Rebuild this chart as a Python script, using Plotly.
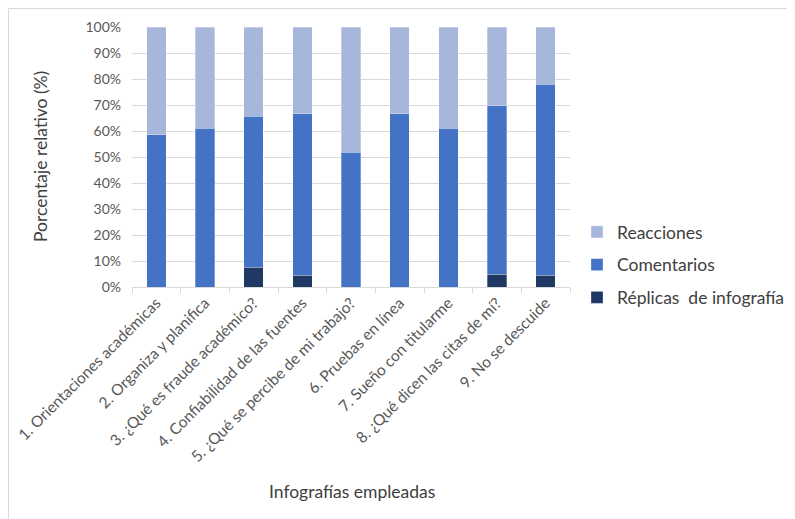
import plotly.graph_objects as go

categorias = [
    "1. Orientaciones académicas",
    "2. Organiza y planifica",
    "3. ¿Qué es fraude académico?",
    "4. Confiabilidad de las fuentes",
    "5. ¿Qué se percibe de mi trabajo?",
    "6. Pruebas en línea",
    "7. Sueño con titularme",
    "8. ¿Qué dicen las citas de mí?",
    "9. No se descuide",
]
replicas = [0.0, 0.0, 7.6, 4.5, 0.0, 0.0, 0.0, 5.0, 4.5]
comentarios = [58.5, 61.1, 58.0, 62.1, 51.8, 66.6, 61.1, 64.7, 73.5]
reacciones = [41.5, 38.9, 34.4, 33.4, 48.2, 33.4, 38.9, 30.3, 22.0]
y_ticks = [0, 10, 20, 30, 40, 50, 60, 70, 80, 90, 100]
y_ticklabels = [f"{v}%" for v in y_ticks]

FONT = "Lato"
fig = go.Figure()
series = [
    ("Réplicas  de infografía", replicas, "#1F3864", 3),
    ("Comentarios", comentarios, "#4472C4", 2),
    ("Reacciones", reacciones, "#A7B7DC", 1),
]
for name, vals, col, rank in series:
    fig.add_trace(go.Bar(
        x=categorias, y=vals, name=name, legendgroup=name, legendrank=rank,
        marker=dict(color=col, line=dict(color="rgba(255,255,255,0.6)", width=0.5)),
    ))

W, H = 795, 519
OFF = 8  # page body margin
# plot area in page coordinates of the reference
PX0, PX1, PY0, PY1 = 132, 570, 27, 287
L = PX0 - OFF
T = PY0 - OFF
R = W - (PX1 - OFF)
B = H - (PY1 - OFF)
pw, ph = W - L - R, H - T - B

def px(x):
    return (x - OFF - L) / pw

def py(y):
    return (H - B - (y - OFF)) / ph

fig.update_layout(
    width=W, height=H, barmode="stack", bargap=0.6,
    margin=dict(l=L, r=R, t=T, b=B, autoexpand=False),
    paper_bgcolor="white", plot_bgcolor="white",
    font=dict(family=FONT, color="#595959", size=13),
    legend=dict(
        x=px(577), y=py(214), xanchor="left", yanchor="top",
        traceorder="grouped", tracegroupgap=7,
        font=dict(size=17.5, color="#404040", family=FONT),
        itemwidth=30,
    ),
    xaxis=dict(
        tickangle=-45, showgrid=False, showline=True, linecolor="#D9D9D9",
        ticks="outside", tickson="boundaries", ticklen=5, tickcolor="#D9D9D9",
        tickfont=dict(size=15.5, color="#595959"),
    ),
    yaxis=dict(
        range=[0, 100], tickvals=y_ticks, ticktext=y_ticklabels,
        showgrid=True, gridcolor="#D9D9D9", gridwidth=1, zeroline=False,
        showline=False, ticks="", ticklen=0, ticklabelstandoff=10,
        tickfont=dict(size=14, color="#595959"),
    ),
    annotations=[
        dict(text="Porcentaje relativo (%)", x=px(40), y=py(157), xref="paper", yref="paper",
             xanchor="center", yanchor="middle",
             textangle=-90, showarrow=False, font=dict(size=17.5, color="#404040")),
        dict(text="Infografías empleadas", x=px(352), y=py(492), xref="paper", yref="paper",
             xanchor="center", yanchor="middle",
             showarrow=False, font=dict(size=17.5, color="#404040")),
    ],
    shapes=[
        dict(type="line", xref="paper", yref="paper", x0=px(8.5), x1=px(810), y0=py(8.5), y1=py(8.5),
             line=dict(color="#D9D9D9", width=1)),
        dict(type="line", xref="paper", yref="paper", x0=px(8.5), x1=px(8.5), y0=py(8.5), y1=py(540),
             line=dict(color="#D9D9D9", width=1)),
    ],
)
fig.write_html("out.html")
